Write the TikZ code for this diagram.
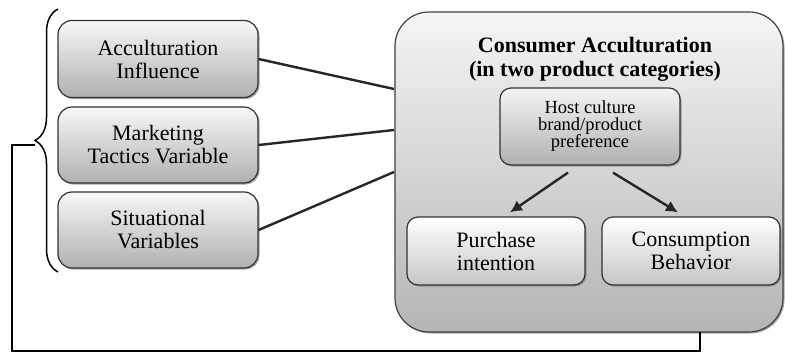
\documentclass[tikz,border=0pt]{standalone}
\usepackage{fontspec}
\setmainfont{Liberation Serif}
\usetikzlibrary{arrows,arrows.meta,shapes,shadows,calc,decorations.pathreplacing}

\tikzset{
	varbox/.style={draw=black!80, line width=1.2pt, rounded corners=14pt,
		top color=gray!6, bottom color=gray!62, minimum width=200pt, minimum height=77pt,
		align=center, font=\fontsize{22}{23}\selectfont,
		drop shadow={shadow xshift=1.5pt, shadow yshift=-1.5pt, opacity=.7}},
	bigbox/.style={draw=black!75, line width=1.2pt, rounded corners=34pt,
		top color=gray!8, bottom color=gray!58, minimum width=388pt, minimum height=320pt,
		drop shadow={shadow xshift=1.5pt, shadow yshift=-1.5pt, opacity=.7}},
	innerbox/.style={draw=black!80, line width=1.2pt, rounded corners=11pt,
		top color=white, bottom color=gray!45, minimum width=178pt, minimum height=68pt,
		align=center, font=\fontsize{22}{23}\selectfont,
		drop shadow={shadow xshift=1.5pt, shadow yshift=-1.5pt, opacity=.7}},
	linkline/.style={line width=2.4pt, black!85}
}

\begin{document}
\begin{tikzpicture}[x=1pt, y=-1pt]
	\useasboundingbox (0,0) rectangle (785,354);
	
	\node[bigbox] (big) at (589,172) {};
	\node[font=\bfseries\fontsize{22}{24}\selectfont, align=center] (title) at (595,59)
		{Consumer Acculturation\\(in two product categories)};
	\node[innerbox, top color=gray!8, bottom color=gray!62, minimum width=180pt, minimum height=77pt,
		font=\fontsize{18.5}{17}\selectfont] (host) at (590,126.5)
		{Host culture\\brand/product\\preference};
	\node[innerbox] (purch) at (496,251) {Purchase\\intention};
	\node[innerbox] (consum) at (691,251) {Consumption\\Behavior};
	
	\node[varbox] (accinf) at (158,59) {Acculturation\\Influence};
	\node[varbox, minimum height=76pt] (market) at (158,145) {Marketing\\Tactics Variable};
	\node[varbox, minimum height=76pt] (situat) at (158,230) {Situational\\Variables};
	
	\coordinate (in1) at (394,89);
	\coordinate (in2) at (394,130);
	\coordinate (in3) at (394,172);
	\draw[linkline] (accinf.east) -- (in1);
	\draw[linkline] (market.east) -- (in2);
	\draw[linkline] (situat.east) -- (in3);
	
	\draw[linkline, -{Latex[length=12pt, width=12pt]}] ([xshift=-22pt, yshift=-7pt]host.south) -- ([xshift=14pt, yshift=4pt]purch.north);
	\draw[linkline, -{Latex[length=12pt, width=12pt]}] ([xshift=23pt, yshift=-7pt]host.south) -- ([xshift=-13pt, yshift=4pt]consum.north);
	
	\draw[line width=1.5pt, decorate, decoration={brace, amplitude=23pt}] (58,272) -- (58,9);
	\coordinate (btip) at (35,145);
	\coordinate (fb) at (700,332);
	\draw[line width=1.5pt] (btip) -- ++(-23,0) -- ++(0,206) -| (fb);
	
\end{tikzpicture}
\end{document}
